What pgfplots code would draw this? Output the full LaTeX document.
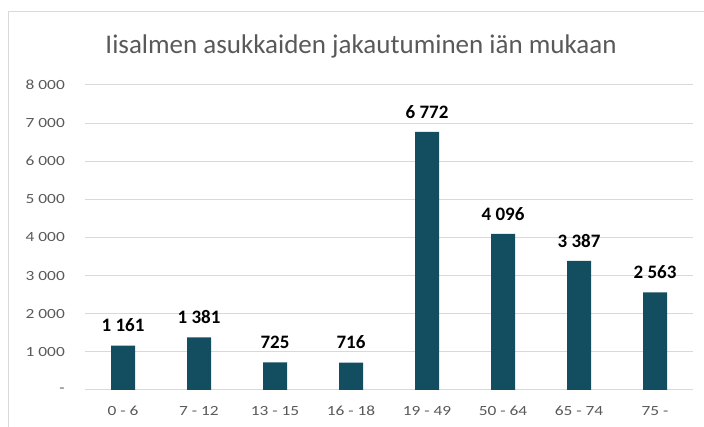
\documentclass[border=0pt]{standalone}
\usepackage{pgfplots}
\pgfplotsset{compat=1.18}
\usepackage{fontspec}
\setmainfont{Carlito}
\newfontfamily\tickfont[FakeStretch=1.24]{Carlito}
\definecolor{barc}{HTML}{124E5F}
\definecolor{gridc}{HTML}{D9D9D9}
\definecolor{txt}{HTML}{595959}
\begin{document}
\begin{tikzpicture}[x=1pt,y=1pt]
\useasboundingbox (0,0) rectangle (704,427);
\begin{scope}
\clip (0,0) rectangle (704,427);
\draw[gridc, line width=1.5pt] (8.5,-20) -- (8.5,415.5) -- (730,415.5);
\end{scope}
\node[anchor=base, text=txt, font=\fontsize{27}{27}\selectfont, inner sep=0pt] at (361,373.7) {Iisalmen asukkaiden jakautuminen iän mukaan};
\begin{axis}[
  at={(85pt,37pt)}, anchor=south west,
  scale only axis, width=608pt, height=305pt,
  xmin=-0.5, xmax=7.5, ymin=0, ymax=8000,
  ytick={0,1000,...,8000},
  yticklabels={-,1 000,2 000,3 000,4 000,5 000,6 000,7 000,8 000},
  xtick={0,...,7},
  xticklabels={0 - 6,7 - 12,13 - 15,16 - 18,19 - 49,50 - 64,65 - 74,75 -},
  ymajorgrids, grid style={gridc, line width=1pt},
  axis line style={draw=none},
  major tick length=0pt,
  tick style={draw=none},
  yticklabel style={text=txt, font=\tickfont\fontsize{14}{14}\selectfont, anchor=east, inner sep=0pt, xshift=-20pt},
  xticklabel style={text=txt, font=\tickfont\fontsize{14}{14}\selectfont, anchor=base, inner sep=0pt, yshift=-26pt},
  clip=false,
]
\addplot[ybar, bar width=24pt, fill=barc, draw=none,
  nodes near coords,
  nodes near coords style={font=\bfseries\fontsize{19}{19}\selectfont, text=black, anchor=south, inner sep=0pt, yshift=13.4pt,
    /pgf/number format/.cd, fixed, precision=0, 1000 sep={\ }, assume math mode=true},
] coordinates {(0,1161) (1,1381) (2,725) (3,716) (4,6772) (5,4096) (6,3387) (7,2563)};
\end{axis}
\end{tikzpicture}
\end{document}
